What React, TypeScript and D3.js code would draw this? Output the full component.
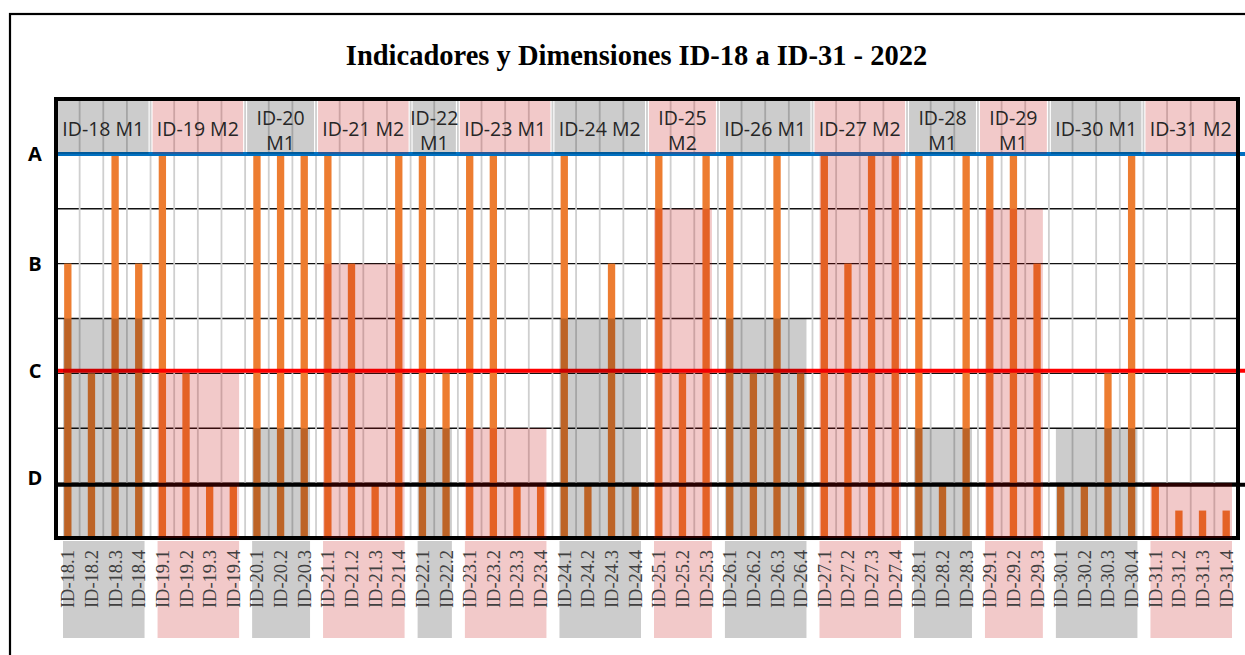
import React from "react";
import * as d3 from "d3";

const groupIds = ["ID-18", "ID-19", "ID-20", "ID-21", "ID-22", "ID-23", "ID-24", "ID-25", "ID-26", "ID-27", "ID-28", "ID-29", "ID-30", "ID-31"];
const groupModes = ["M1", "M2", "M1", "M2", "M1", "M1", "M2", "M2", "M1", "M2", "M1", "M1", "M1", "M2"];
const groupCounts = [4, 4, 3, 4, 2, 4, 4, 3, 4, 4, 3, 3, 4, 4];
const groupLevels = [4, 3, 2, 5, 2, 2, 4, 6, 4, 7, 2, 6, 2, 1];

const values = [
  5, 3, 7, 5,
  7, 3, 1, 1,
  7, 7, 7,
  7, 5, 1, 7,
  7, 3,
  7, 7, 1, 1,
  7, 1, 5, 1,
  7, 3, 7,
  7, 3, 7, 3,
  7, 5, 7, 7,
  7, 1, 7,
  7, 7, 5,
  1, 1, 3, 7,
  1, 0.5, 0.5, 0.5,
];

const yTicks = [1, 2, 3, 4, 5, 6, 7];
const axisLetters = ["A", "B", "C", "D"];
const axisLetterValues = [7, 5, 3.05, 1.1];
const refLineValues = [7, 3.05, 0.97];
const refLineColors = ["#0070C0", "#FF0000", "#000000"];

const title = "Indicadores y Dimensiones ID-18 a ID-31 - 2022";

export default function App() {
  const W = 1245, H = 655;
  const left = 56, right = 1238, top = 99, bottom = 538;

  const categories: string[] = [];
  groupIds.forEach((g, gi) => {
    for (let k = 1; k <= groupCounts[gi]; k++) {
      categories.push(`${g}.${k}`);
    }
  });

  const x = d3.scaleBand<string>().domain(categories).range([left, right]).padding(0);
  const y = d3.scaleLinear().domain([0, 8]).range([bottom, top]);
  const bw = x.bandwidth();
  const barW = bw * 0.31;

  const groupStart: number[] = [];
  let idx = 0;
  groupCounts.forEach((c) => { groupStart.push(idx); idx += c; });

  const gray = "rgba(0,0,0,0.2)";
  const pink = "rgba(192,0,0,0.21)";
  const shade = (gi: number) => (gi % 2 === 0 ? gray : pink);

  return (
    <svg width={W} height={H} style={{ position: "absolute", left: 0, top: 0, background: "#fff" }}>
      <rect x={10} y={14} width={1250} height={680} fill="#fff" stroke="#000" strokeWidth={2.2} />
      <text x={636.5} y={65} textAnchor="middle" fontFamily="'Liberation Serif', serif" fontWeight="bold" fontSize={28.5} fill="#000">{title}</text>

      {/* horizontal grid */}
      {yTicks.map((t) => (
        <line key={"h" + t} x1={left} x2={right} y1={y(t)} y2={y(t)} stroke="#111" strokeWidth={1.4} />
      ))}
      {/* vertical grid */}
      {categories.slice(1).map((c) => (
        <line key={"v" + c} x1={x(c)!} x2={x(c)!} y1={top} y2={bottom} stroke="#cfcfcf" strokeWidth={1.8} />
      ))}

      {/* bars */}
      {categories.map((c, i) => (
        <rect key={"b" + c} x={x(c)! + bw / 2 - barW / 2} y={y(values[i])} width={barW} height={y(0) - y(values[i])} fill="#ED7D31" />
      ))}

      {/* reference lines */}
      {refLineValues.map((v, i) => (
        <line key={"r" + i} x1={left} x2={right + 8} y1={y(v)} y2={y(v)} stroke={refLineColors[i]} strokeWidth={4} />
      ))}

      {/* plot border */}
      <rect x={left} y={top} width={right - left} height={bottom - top} fill="none" stroke="#000" strokeWidth={4} />

      {/* group shades */}
      {groupIds.map((g, gi) => {
        const first = categories[groupStart[gi]];
        const last = categories[groupStart[gi] + groupCounts[gi] - 1];
        const x0 = x(first)!;
        const x1 = x(last)! + bw;
        return (
          <g key={"s" + g}>
            <rect x={x0 + 2} y={top + 2} width={x1 - x0 - 4} height={y(7) - top - 2} fill={shade(gi)} />
            <rect x={x0 + 7} y={y(groupLevels[gi])} width={x1 - x0 - 13} height={y(0) - y(groupLevels[gi])} fill={shade(gi)} />
            <rect x={x0 + 7} y={541} width={x1 - x0 - 13} height={97} fill={shade(gi)} />
          </g>
        );
      })}

      {/* header labels */}
      {groupIds.map((g, gi) => {
        const first = categories[groupStart[gi]];
        const last = categories[groupStart[gi] + groupCounts[gi] - 1];
        const cx = (x(first)! + x(last)! + bw) / 2;
        const wrap = groupCounts[gi] <= 3;
        return wrap ? (
          <text key={"t" + g} x={cx} textAnchor="middle" fontFamily="'Open Sans', sans-serif" fontSize={19.5} fill="#262626">
            <tspan x={cx} y={124.5}>{g}</tspan>
            <tspan x={cx} y={149.5}>{groupModes[gi]}</tspan>
          </text>
        ) : (
          <text key={"t" + g} x={cx} y={135.5} textAnchor="middle" fontFamily="'Open Sans', sans-serif" fontSize={19.5} fill="#262626">
            {`${g} ${groupModes[gi]}`}
          </text>
        );
      })}

      {/* y letters */}
      {axisLetters.map((l, i) => (
        <text key={"l" + l} x={35} y={y(axisLetterValues[i])} dy="0.36em" textAnchor="middle" fontFamily="'Open Sans', sans-serif" fontWeight="bold" fontSize={20} fill="#000">{l}</text>
      ))}

      {/* x labels */}
      {categories.map((c) => {
        const cx = x(c)! + bw / 2;
        return (
          <text key={"x" + c} transform={`translate(${cx},550) rotate(-90)`} textAnchor="end" dy="0.35em" fontFamily="'Liberation Serif', serif" fontSize={18.5} fill="#404040">{c}</text>
        );
      })}
    </svg>
  );
}
